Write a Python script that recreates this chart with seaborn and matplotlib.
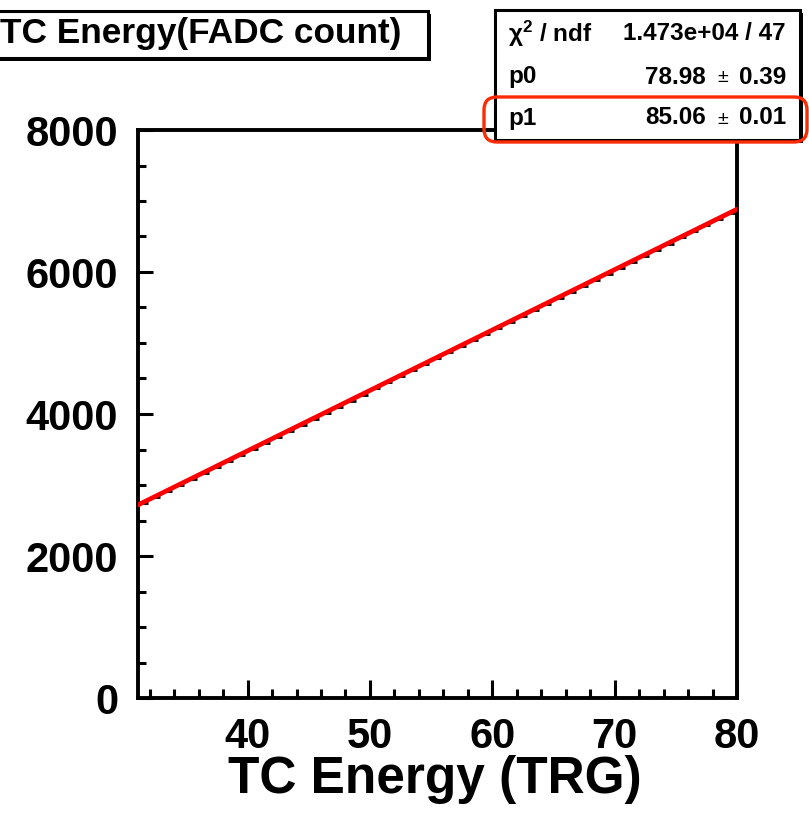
import matplotlib
matplotlib.use("Agg")
import matplotlib.pyplot as plt
from matplotlib.patches import Rectangle, FancyBboxPatch
from matplotlib.ticker import MultipleLocator
import seaborn as sns
import pandas as pd

# ---- data ----
bin_centers = [31.5, 32.5, 33.5, 34.5, 35.5, 36.5, 37.5, 38.5, 39.5, 40.5,
               41.5, 42.5, 43.5, 44.5, 45.5, 46.5, 47.5, 48.5, 49.5, 50.5,
               51.5, 52.5, 53.5, 54.5, 55.5, 56.5, 57.5, 58.5, 59.5, 60.5,
               61.5, 62.5, 63.5, 64.5, 65.5, 66.5, 67.5, 68.5, 69.5, 70.5,
               71.5, 72.5, 73.5, 74.5, 75.5, 76.5, 77.5, 78.5, 79.5]
fadc_counts = [2745, 2830, 2915, 2998, 3083, 3170, 3255, 3338, 3425, 3510,
               3594, 3680, 3765, 3849, 3934, 4020, 4105, 4190, 4274, 4360,
               4445, 4529, 4615, 4700, 4785, 4870, 4954, 5040, 5125, 5210,
               5295, 5380, 5465, 5550, 5636, 5720, 5805, 5890, 5976, 6060,
               6146, 6230, 6316, 6400, 6486, 6571, 6656, 6741, 6826]
fit_x = [31, 80]
fit_y = [2716, 6884]

x_ticks = [40, 50, 60, 70, 80]
y_ticks = [0, 2000, 4000, 6000, 8000]

title_text = "TC Energy(FADC count)"
xlabel_text = "TC Energy (TRG)"
stat_names = [r"$\mathregular{\chi^{2}}$ / ndf", "p0", "p1"]
stat_values = ["1.473e+04 / 47", "78.98", "85.06"]
stat_errors = [None, "0.39", "0.01"]

# ---- style ----
sns.set_theme(style="white")
plt.rcParams["font.family"] = ["Liberation Sans", "DejaVu Sans"]
plt.rcParams["mathtext.fontset"] = "dejavusans"
for key in ["text.color", "axes.labelcolor", "xtick.color", "ytick.color",
            "axes.edgecolor"]:
    plt.rcParams[key] = "black"

W, H = 809, 813
fig = plt.figure(figsize=(W / 100, H / 100), dpi=100)
ax = fig.add_axes([137.5 / W, 1 - 698 / H, (737 - 137.5) / W, (698 - 130) / H])


def fx(px):
    return px / W


def fy(py):
    return 1 - py / H


pts = pd.DataFrame({"x": bin_centers, "y": fadc_counts})
fit = pd.DataFrame({"x": fit_x, "y": fit_y})

sns.scatterplot(data=pts, x="x", y="y", marker="_", s=40, linewidth=2,
                color="black", ax=ax, zorder=2)
sns.lineplot(data=fit, x="x", y="y", color="#ff0000", linewidth=3.4,
             ax=ax, zorder=3)

ax.set_xlim(31, 80)
ax.set_ylim(0, 8000)
ax.set_xticks(x_ticks)
ax.set_yticks(y_ticks)
ax.xaxis.set_minor_locator(MultipleLocator(2))
ax.yaxis.set_minor_locator(MultipleLocator(500))
ax.tick_params(axis="x", which="major", direction="in", length=13, width=2.2,
               labelsize=30, pad=14, bottom=True, top=False, colors="black")
ax.tick_params(axis="x", which="minor", direction="in", length=6.5, width=2.2,
               bottom=True, top=False, colors="black")
ax.tick_params(axis="y", which="major", direction="in", length=11, width=2.2,
               labelsize=30, pad=14, left=True, right=False, colors="black")
ax.tick_params(axis="y", which="minor", direction="in", length=5.5, width=2.2,
               left=True, right=False, colors="black")
for lbl in ax.get_xticklabels() + ax.get_yticklabels():
    lbl.set_fontweight("bold")
for sp in ax.spines.values():
    sp.set_visible(True)
    sp.set_color("black")
    sp.set_linewidth(2.8)

ax.set_xlabel(xlabel_text, fontsize=37, fontweight="bold", color="black")
ax.xaxis.set_label_coords(0.496, -0.100)
ax.set_ylabel("")

# ---- title box ----
fig.patches.append(Rectangle((fx(-10 + 3), fy(58 + 3)), fx(438) - fx(0), fy(0) - fy(47),
                             transform=fig.transFigure, facecolor="black",
                             edgecolor="black", lw=0, zorder=5))
fig.patches.append(Rectangle((fx(-10), fy(58)), fx(438) - fx(0), fy(0) - fy(47),
                             transform=fig.transFigure, facecolor="white",
                             edgecolor="black", lw=2.2, zorder=6))
fig.text(fx(401), fy(34), title_text, ha="right", va="center", fontsize=25.4,
         fontweight="bold", zorder=7)

# ---- stats box ----
fig.patches.append(Rectangle((fx(495 + 3), fy(140 + 3)), fx(305), fy(0) - fy(130),
                             transform=fig.transFigure, facecolor="black",
                             edgecolor="black", lw=0, zorder=5))
fig.patches.append(Rectangle((fx(495), fy(140)), fx(305), fy(0) - fy(130),
                             transform=fig.transFigure, facecolor="white",
                             edgecolor="black", lw=2.2, zorder=6))
row_y = [34, 77, 118]
for name, val, err, ry in zip(stat_names, stat_values, stat_errors, row_y):
    fig.text(fx(508), fy(ry), name, ha="left", va="center", fontsize=17.5,
             fontweight="bold", zorder=7)
    if err is None:
        fig.text(fx(786), fy(ry), val, ha="right", va="center", fontsize=17.5,
                 fontweight="bold", zorder=7)
    else:
        fig.text(fx(786), fy(ry), err, ha="right", va="center", fontsize=17.5,
                 fontweight="bold", zorder=7)
        fig.text(fx(723), fy(ry + 1), "±", ha="center", va="center", fontsize=14,
                 zorder=7)
        fig.text(fx(706), fy(ry), val, ha="right", va="center", fontsize=17.5,
                 fontweight="bold", zorder=7)

# red highlight around p1 row
fig.patches.append(FancyBboxPatch((fx(484), fy(142)), fx(323), fy(0) - fy(45),
                                  boxstyle="round,pad=0,rounding_size=0.016",
                                  transform=fig.transFigure, facecolor="none",
                                  edgecolor="#ff2a00", lw=2.4, zorder=8,
                                  mutation_aspect=1))

fig.savefig("out.png", dpi=100)
